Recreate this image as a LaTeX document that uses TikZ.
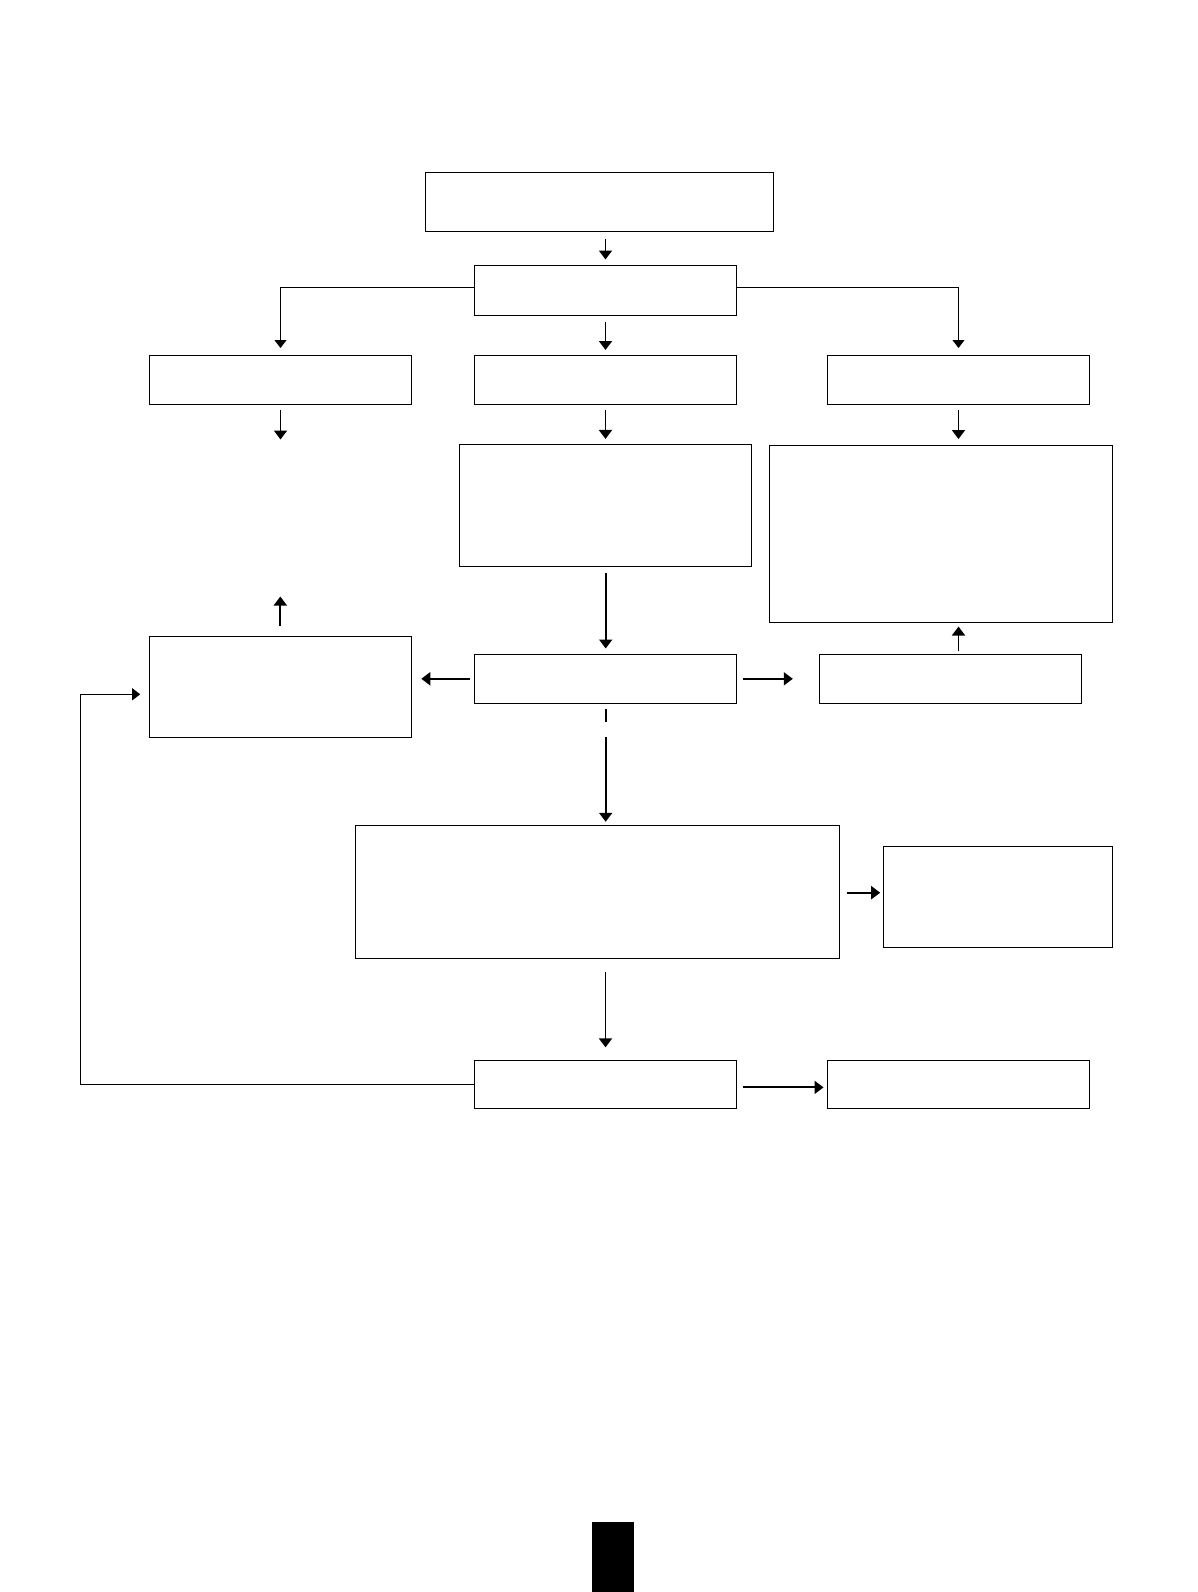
\documentclass[tikz,border=0pt]{standalone}
\usetikzlibrary{arrows.meta,calc}
\begin{document}
\begin{tikzpicture}[x=1pt,y=-1pt,
  box/.style={draw=black,line width=1pt,rectangle,inner sep=0pt,fill=white},
  arr/.style={line width=1.9pt,-{Triangle[width=13pt,length=9pt]}},
  tarr/.style={line width=0.9pt,-{Triangle[width=12pt,length=8pt]}},
  tline/.style={line width=0.9pt}]
\useasboundingbox (0,0) rectangle (1197,1592);
% boxes
\node[box,minimum width=348pt,minimum height=59pt] (top) at (599,201.5) {};
\node[box,minimum width=262pt,minimum height=49.5pt] (b2) at (605.5,290.25) {};
\node[box,minimum width=262pt,minimum height=49pt] (L1) at (280.5,380) {};
\node[box,minimum width=262pt,minimum height=49pt] (M1) at (605.5,380) {};
\node[box,minimum width=262pt,minimum height=49pt] (R1) at (958.5,380) {};
\node[box,minimum width=292.7pt,minimum height=121.3pt] (M2) at (605.6,505.6) {};
\node[box,minimum width=343.3pt,minimum height=177.3pt] (R2) at (940.7,533.7) {};
\node[box,minimum width=262pt,minimum height=101.3pt] (L3) at (280.3,686.7) {};
\node[box,minimum width=262pt,minimum height=49pt] (M3) at (605.7,678.8) {};
\node[box,minimum width=262pt,minimum height=49pt] (R3) at (950.7,678.8) {};
\node[box,minimum width=484pt,minimum height=132.6pt] (Big) at (597,892) {};
\node[box,minimum width=229pt,minimum height=101.3pt] (Side) at (998.2,896.7) {};
\node[box,minimum width=262pt,minimum height=48.7pt] (M5) at (605.5,1084.4) {};
\node[box,minimum width=262pt,minimum height=48.7pt] (R5) at (958.5,1084.4) {};
\node[fill=black,draw=none,minimum width=42pt,minimum height=70pt,inner sep=0pt,anchor=north] (blk) at (613.3,1522) {};
% free ends
\coordinate (Lend) at (280.5,439.5);
\coordinate (Lup) at (280.3,596.5);
\coordinate (fb) at (80.5,1085);
% connectors
\draw[arr,shorten <=7pt,shorten >=5.5pt] (top.south -| b2.north) -- (b2.north);
\draw[tarr,shorten >=7pt] ($(b2.west)+(0,-3.25)$) -| (L1.north);
\draw[tarr,shorten >=7pt] ($(b2.east)+(0,-3.25)$) -| (R1.north);
\draw[arr,shorten <=6pt,shorten >=5pt] (b2.south) -- (M1.north);
\draw[arr,shorten <=4.5pt] (L1.south) -- (Lend);
\draw[arr,shorten <=4.5pt,shorten >=5.5pt] (M1.south) -- (M1.south |- M2.north);
\draw[arr,shorten <=4.5pt,shorten >=5.5pt] (R1.south) -- (R1.south |- R2.north);
\draw[arr,shorten <=6pt,shorten >=5.3pt] (M2.south -| M3.north) -- (M3.north);
\draw[arr,shorten <=9.5pt] (L3.north) -- (Lup);
\draw[arr,shorten <=2.6pt,shorten >=3.7pt] (R3.north -| R1.south) -- (R2.south -| R1.south);
\draw[arr,shorten <=4pt,shorten >=9.5pt] (M3.west) -- (M3.west -| L3.east);
\draw[arr,shorten <=5.3pt,shorten >=26.4pt] (M3.east) -- (R3.west);
\draw[line width=1.9pt] ($(M3.south)+(0,5)$) -- ($(M3.south)+(0,18.4)$);
\draw[arr,shorten >=3.4pt] ($(M3.south)+(0,33.4)$) -- (Big.north -| M3.south);
\draw[arr,shorten <=7pt,shorten >=3pt] ($(Big.east |- Side.west)+(0,-4)$) -- ($(Side.west)+(0,-4)$);
\draw[arr,shorten <=13.3pt,shorten >=12.2pt] (Big.south -| M5.north) -- (M5.north);
\draw[arr,shorten <=5.5pt,shorten >=3.5pt] ($(M5.east)+(0,3)$) -- ($(R5.west)+(0,3)$);
\draw[tarr,shorten >=8.6pt] (M5.west) -- (M5.west -| fb) |- ($(L3.west)+(0,7.6)$);
\end{tikzpicture}
\end{document}
